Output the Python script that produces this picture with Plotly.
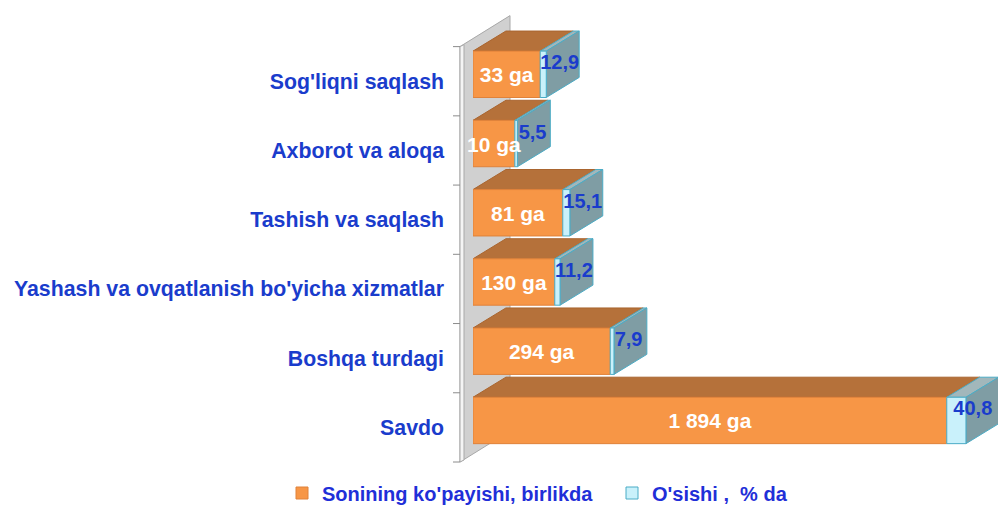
import plotly.graph_objects as go
import numpy as np

# ---------------- data ----------------
categories = ["Sog'liqni saqlash", "Axborot va aloqa", "Tashish va saqlash",
              "Yashash va ovqatlanish bo'yicha xizmatlar", "Boshqa turdagi", "Savdo"]
count_labels = ["33 ga", "10 ga", "81 ga", "130 ga", "294 ga", "1 894 ga"]
count_bar = [143, 89, 191, 174, 292, 1008]          # plotted bar length
growth_pct = [12.9, 5.5, 15.1, 11.2, 7.9, 40.8]
growth_labels = ["12,9", "5,5", "15,1", "11,2", "7,9", "40,8"]
series_names = ["Sonining ko'payishi, birlikda", "O'sishi ,  % da"]

# ---------------- styling constants ----------------
ORANGE = "#F79646"
ORANGE_EDGE = "#E0823A"
ORANGE_TOP = "#B5713A"
CYAN = "#C9F1FB"
CYAN_EDGE = "#4BACC6"
SIDE = "#7F9DA4"
SIDE_TOP = "#A2B7BB"
LABEL_BLUE = "#1A3CCC"
FONT = "Liberation Sans, Arial, sans-serif"

W, H = 998, 506
ML, MR, MT, MB = 473, 0, 12, 44
XMAX = 1117
Y_RANGE = [5.5, -1.0]
BAR_W = 0.67
BAR_SHIFT = -0.1             # bars sit slightly above the category centre
DEPTH_X = 70                 # 3-D depth in x units
DEPTH_Y = 0.29               # 3-D depth in category units

pos = np.arange(len(categories), dtype=float)
cnt = np.array(count_bar, dtype=float)
grw = np.array(growth_pct, dtype=float)
top_edge = pos + BAR_SHIFT - BAR_W / 2
bot_edge = pos + BAR_SHIFT + BAR_W / 2

fig = go.Figure()
fig.add_trace(go.Bar(
    y=pos, x=cnt, orientation="h", width=BAR_W, offset=BAR_SHIFT - BAR_W / 2,
    name=series_names[0], marker=dict(color=ORANGE, line=dict(color=ORANGE_EDGE, width=1)),
    hoverinfo="skip"))
fig.add_trace(go.Bar(
    y=pos, x=grw, base=cnt, orientation="h", width=BAR_W, offset=BAR_SHIFT - BAR_W / 2,
    name=series_names[1], marker=dict(color=CYAN, line=dict(color=CYAN_EDGE, width=1)),
    hoverinfo="skip"))

# labels
fig.add_trace(go.Scatter(
    x=cnt / 2, y=pos + BAR_SHIFT + 0.04, mode="text", text=count_labels,
    textfont=dict(family=FONT, size=21, color="white", weight="bold"),
    showlegend=False, hoverinfo="skip", cliponaxis=False))
fig.add_trace(go.Scatter(
    x=cnt + grw / 2 + DEPTH_X / 2, y=pos + BAR_SHIFT - DEPTH_Y / 2, mode="text",
    text=growth_labels,
    textfont=dict(family=FONT, size=20, color=LABEL_BLUE, weight="bold"),
    showlegend=False, hoverinfo="skip", cliponaxis=False))

shapes = []

def px_to_paper_x(px):
    return (px - ML) / (W - ML - MR)

plot_h = H - MT - MB
def y_to_paper(y):
    return (Y_RANGE[0] - y) / (Y_RANGE[0] - Y_RANGE[1])

# --- side wall (decoration, paper coordinates) ---
wall_front = px_to_paper_x(460)
wall_back = px_to_paper_x(510)
wall_dy = 31 / plot_h
yb, yt = y_to_paper(5.5), y_to_paper(-0.5)
shapes.append(dict(type="path", xref="paper", yref="paper", layer="below",
                   path=f"M{wall_front},{yb} L{wall_front},{yt} L{wall_back},{yt+wall_dy} L{wall_back},{yb+wall_dy} Z",
                   fillcolor="#D0D0D0", line=dict(color="#A8A8A8", width=1)))
shapes.append(dict(type="path", xref="paper", yref="paper", layer="below",
                   path=f"M{wall_front},{yb} L{wall_front},{yt} L{px_to_paper_x(464)},{yt+2/plot_h} L{px_to_paper_x(464)},{yb+2/plot_h} Z",
                   fillcolor="#F4F4F4", line=dict(color="#A8A8A8", width=1)))
# axis ticks at category boundaries
for b in np.append(pos - 0.5, pos[-1] + 0.5):
    shapes.append(dict(type="line", xref="paper", yref="paper", layer="below",
                       x0=px_to_paper_x(453), x1=wall_front, y0=y_to_paper(b), y1=y_to_paper(b),
                       line=dict(color="#8C8C8C", width=1)))

# --- 3-D faces, computed from the data ---
for i in range(len(categories)):
    L, g, t, bt = cnt[i], grw[i], top_edge[i], bot_edge[i]
    shapes.append(dict(type="path", xref="x", yref="y", layer="below",
                       path=f"M0,{t} L{L},{t} L{L+DEPTH_X},{t-DEPTH_Y} L{DEPTH_X},{t-DEPTH_Y} Z",
                       fillcolor=ORANGE_TOP, line=dict(color="#A9652F", width=1)))
    shapes.append(dict(type="path", xref="x", yref="y", layer="below",
                       path=f"M{L},{t} L{L+g},{t} L{L+g+DEPTH_X},{t-DEPTH_Y} L{L+DEPTH_X},{t-DEPTH_Y} Z",
                       fillcolor=SIDE_TOP, line=dict(color=CYAN_EDGE, width=1)))
    shapes.append(dict(type="path", xref="x", yref="y", layer="below",
                       path=f"M{L+g},{t} L{L+g+DEPTH_X},{t-DEPTH_Y} L{L+g+DEPTH_X},{bt-DEPTH_Y} L{L+g},{bt} Z",
                       fillcolor=SIDE, line=dict(color=CYAN_EDGE, width=1)))

fig.update_layout(
    width=W, height=H,
    margin=dict(l=ML, r=MR, t=MT, b=MB, autoexpand=False),
    paper_bgcolor="white", plot_bgcolor="white",
    barmode="overlay",
    shapes=shapes,
    xaxis=dict(range=[0, XMAX], visible=False, fixedrange=True),
    yaxis=dict(range=Y_RANGE, tickvals=pos, ticktext=categories, showgrid=False,
               zeroline=False, showline=False, ticks="", ticklabelstandoff=28,
               automargin=False, fixedrange=True,
               tickfont=dict(family=FONT, size=21.3, color=LABEL_BLUE, weight="bold")),
    legend=dict(orientation="h", x=px_to_paper_x(282), xanchor="left",
                y=-(493 - (H - MB)) / plot_h, yanchor="middle",
                font=dict(family=FONT, size=20, color="#1F2FD8", weight="bold"),
                itemwidth=30, entrywidth=285, traceorder="normal"),
    showlegend=True,
)

fig.write_html("out.html", config={"displayModeBar": False},
               post_script="document.body.style.margin='0';document.body.style.overflow='hidden';")
